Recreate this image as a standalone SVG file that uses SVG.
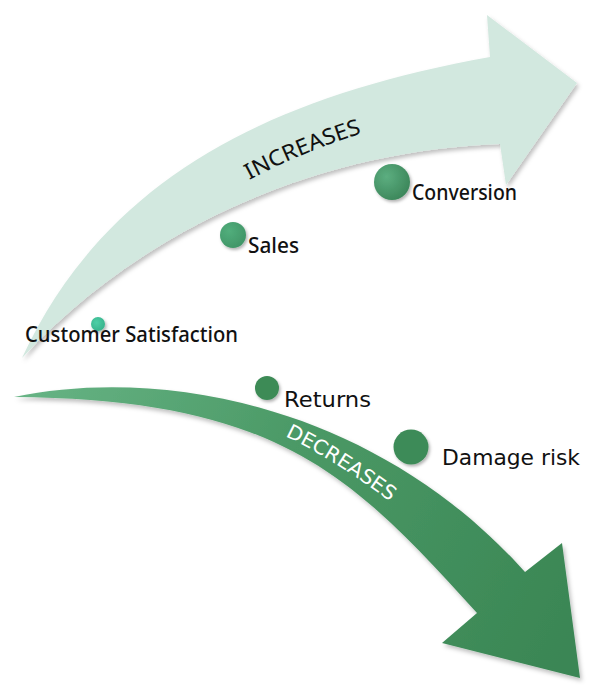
<svg xmlns="http://www.w3.org/2000/svg" width="597" height="688" viewBox="0 0 597 688">
  <defs>
    <style>
      .lab-top { font-family: "Noto Sans", "DejaVu Sans", sans-serif; font-size: 21px; font-weight: 500; fill: #111; }
      .lab-bot { font-family: "DejaVu Sans", "Noto Sans", sans-serif; font-size: 21px; fill: #111; }
      .band-up { font-family: "Noto Sans", "DejaVu Sans", sans-serif; font-size: 22px; fill: #111; }
      .band-down { font-family: "DejaVu Sans", "Noto Sans", sans-serif; font-size: 20px; fill: #ffffff; }
    </style>
    <filter id="shadow" x="-10%" y="-10%" width="125%" height="125%">
      <feDropShadow dx="2" dy="3" stdDeviation="2" flood-color="#000" flood-opacity="0.25"/>
    </filter>
    <filter id="cshadow" x="-40%" y="-40%" width="190%" height="190%">
      <feDropShadow dx="1.5" dy="2" stdDeviation="1.5" flood-color="#000" flood-opacity="0.3"/>
    </filter>
    <linearGradient id="gDown" gradientUnits="userSpaceOnUse" x1="14" y1="397" x2="560" y2="660">
      <stop offset="0" stop-color="#67b485"/>
      <stop offset="0.45" stop-color="#4b9966"/>
      <stop offset="1" stop-color="#3a8654"/>
    </linearGradient>
    <radialGradient id="gBig" cx="0.35" cy="0.35" r="0.75">
      <stop offset="0" stop-color="#5cae80"/>
      <stop offset="1" stop-color="#3a8458"/>
    </radialGradient>
    <radialGradient id="gSales" cx="0.35" cy="0.35" r="0.75">
      <stop offset="0" stop-color="#52ae7c"/>
      <stop offset="1" stop-color="#3f9466"/>
    </radialGradient>
    <radialGradient id="gCS" cx="0.4" cy="0.4" r="0.7">
      <stop offset="0" stop-color="#4dcfa6"/>
      <stop offset="1" stop-color="#36b08a"/>
    </radialGradient>
    <path id="pUp" d="M 242,184 Q 302,151 370,131"/>
    <path id="pDown" d="M 283,435 Q 335,460 392,503"/>
  </defs>

  <g id="connectors">
    <path id="arrow-increases" filter="url(#shadow)" fill="#d2e8df"
          d="M 22,358 C 100,190 250,100 490,57 L 487,15 L 577,83 L 506,185 L 500,144 C 330,150 150,220 22,358 Z"/>
    <path id="arrow-decreases" filter="url(#shadow)" fill="url(#gDown)"
          d="M 14,397 C 170,365 380,410 525,572 L 562,543 L 580,678 L 442,643 L 477,613 C 354,478 282,399 14,397 Z"/>
    <text class="band-up" textLength="122" lengthAdjust="spacingAndGlyphs"><textPath href="#pUp" startOffset="50%" text-anchor="middle">INCREASES</textPath></text>
    <text class="band-down" textLength="124" lengthAdjust="spacingAndGlyphs"><textPath href="#pDown" startOffset="50%" text-anchor="middle">DECREASES</textPath></text>
  </g>

  <g id="node-customer-satisfaction">
    <circle cx="98" cy="324" r="7" fill="url(#gCS)" filter="url(#cshadow)"/>
    <text class="lab-top" x="25" y="342" textLength="213" lengthAdjust="spacingAndGlyphs">Customer Satisfaction</text>
  </g>
  <g id="node-sales">
    <circle cx="233" cy="235" r="13" fill="url(#gSales)" filter="url(#cshadow)"/>
    <text class="lab-top" x="248" y="253" textLength="51" lengthAdjust="spacingAndGlyphs">Sales</text>
  </g>
  <g id="node-conversion">
    <circle cx="392" cy="182" r="18" fill="url(#gBig)" filter="url(#cshadow)"/>
    <text class="lab-top" x="412" y="200" textLength="105" lengthAdjust="spacingAndGlyphs">Conversion</text>
  </g>
  <g id="node-returns">
    <circle cx="267" cy="388" r="12" fill="#3d8b57" filter="url(#cshadow)"/>
    <text class="lab-bot" x="284" y="407" textLength="87" lengthAdjust="spacingAndGlyphs">Returns</text>
  </g>
  <g id="node-damage-risk">
    <circle cx="411" cy="447" r="17.5" fill="#3e8b58" filter="url(#cshadow)"/>
    <text class="lab-bot" x="442" y="465" textLength="138" lengthAdjust="spacingAndGlyphs">Damage risk</text>
  </g>
</svg>
